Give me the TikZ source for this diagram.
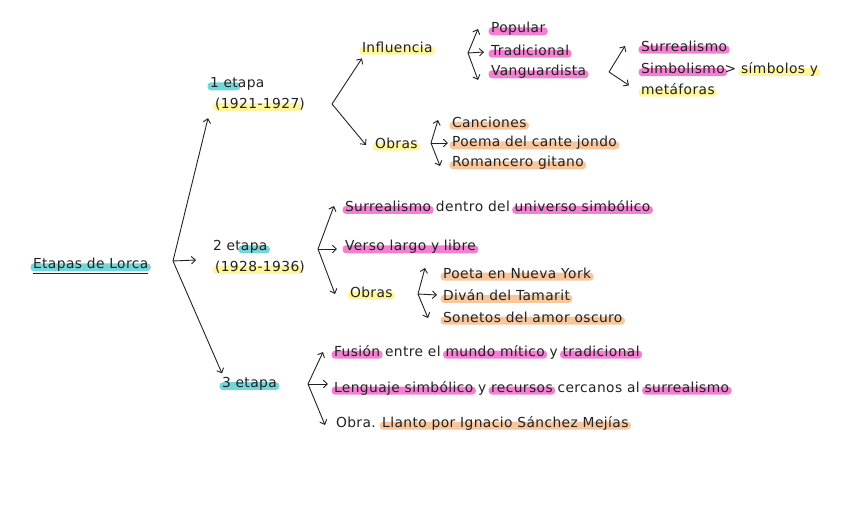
\documentclass[tikz,border=0pt]{standalone}
\usepackage{fontspec}
\setmainfont{DejaVu Sans}[LetterSpace=3]
\usetikzlibrary{arrows.meta,positioning}
\definecolor{lorca-cyan}{HTML}{74D6D8}
\definecolor{lorca-yellow}{HTML}{FFF59C}
\definecolor{lorca-pink}{HTML}{F47FD2}
\definecolor{lorca-orange}{HTML}{F8C69C}
\definecolor{lorca-ink}{HTML}{222222}
\newsavebox\resaltabox
\newlength\resaltaw
\newcommand\resalta[2]{%
  \sbox\resaltabox{#2}\setlength\resaltaw{\wd\resaltabox}%
  \tikz[baseline=0pt]{%
    \fill[overlay,#1,rounded corners=3.5pt] (-2.5pt,-2.5pt) rectangle ({\resaltaw+2.5pt},5.5pt);
    \node[inner sep=0pt,outer sep=0pt,anchor=base west] at (0pt,0pt) {\usebox\resaltabox};}}

\begin{document}
\begin{tikzpicture}[x=1pt,y=-1pt,
  every node/.style={font=\fontsize{13.8}{20.5}\selectfont},
  tema/.style={anchor=west,inner sep=0pt,outer sep=0pt,text=lorca-ink,align=left},
  flecha/.style={lorca-ink,line width=0.9pt,-{Straight Barb[length=4pt,width=7.5pt]}}]
  \useasboundingbox (0,0) rectangle (848,530);
  % root
  \node[tema] (lorca) at (33,265) {\resalta{lorca-cyan}{Etapas de Lorca}};
  \draw[lorca-ink,line width=1pt] ([yshift=-2pt]lorca.south west) -- ([yshift=-2pt]lorca.south east);
  % stages
  \node[tema] (e1) at (210,94) {\resalta{lorca-cyan}{1 et}apa\\\hspace*{5pt}\resalta{lorca-yellow}{(1921-1927})};
  \node[tema] (e2) at (213,257) {2 et\resalta{lorca-cyan}{apa}\\\hspace*{2pt}\resalta{lorca-yellow}{(1928-1936})};
  \node[tema] (e3) at (222,384) {\resalta{lorca-cyan}{3 etapa}};
  \coordinate (j0) at (173,261);
  \draw[flecha] (j0) -- ([shift={(-2pt,-8pt)}]e1.south west);
  \draw[flecha] (j0) -- ([shift={(-17pt,-3pt)}]e2.west);
  \draw[flecha] (j0) -- ([yshift=4pt]e3.north west);

  % 1 etapa
  \node[tema] (inf) at (362,47) {\resalta{lorca-yellow}{Influencia}};
  \node[tema] (ob1) at (375,143) {\resalta{lorca-yellow}{Obras}};
  \coordinate (j1) at (332,104);
  \draw[flecha] (j1) -- ([yshift=-6pt]inf.south west);
  \draw[flecha] (j1) -- ([shift={(-9pt,-2pt)}]ob1.west);

  \node[tema] (pop) at (491,29) {\resalta{lorca-pink}{Popular}};
  \node[tema] (trad) at (491,50) {\resalta{lorca-pink}{Tradicional}};
  \node[tema] (van) at (491,72) {\resalta{lorca-pink}{Vanguardista}};
  \coordinate (j2) at (468,53);
  \draw[flecha] (j2) -- ([xshift=-13pt]pop.west);
  \draw[flecha] (j2) -- ([shift={(-7pt,-2pt)}]trad.west);
  \draw[flecha] (j2) -- ([shift={(-13pt,-8pt)}]van.west);

  \node[tema] (sur) at (641,46) {\resalta{lorca-pink}{Surrealismo}};
  \node[tema] (simb) at (641,78.5) {\resalta{lorca-pink}{Simbolismo}> \resalta{lorca-yellow}{símbolos y}\\\resalta{lorca-yellow}{metáforas}};
  \coordinate (j3) at (609,72);
  \draw[flecha] (j3) -- ([xshift=-16pt]sur.west);
  \draw[flecha] (j3) -- ([shift={(-12pt,9pt)}]simb.south west);

  \node[tema] (canc) at (452,122) {\resalta{lorca-orange}{Canciones}};
  \node[tema] (poema) at (452,143) {\resalta{lorca-orange}{Poema del cante jondo}};
  \node[tema] (roman) at (452,163) {\resalta{lorca-orange}{Romancero gitano}};
  \coordinate (j4) at (431,143);
  \draw[flecha] (j4) -- ([shift={(-14pt,2pt)}]canc.west);
  \draw[flecha] (j4) -- ([xshift=-4pt]poema.west);
  \draw[flecha] (j4) -- ([shift={(-12pt,-3pt)}]roman.west);

  % 2 etapa
  \node[tema] (surd) at (345,206) {\resalta{lorca-pink}{Surrealismo} dentro del \resalta{lorca-pink}{universo simbólico}};
  \node[tema] (verso) at (345,247) {\resalta{lorca-pink}{Verso largo y libre}};
  \node[tema] (ob2) at (350,292) {\resalta{lorca-yellow}{Obras}};
  \coordinate (j5) at (318,249);
  \draw[flecha] (j5) -- ([xshift=-11pt]surd.west);
  \draw[flecha] (j5) -- ([shift={(-8pt,-2pt)}]verso.west);
  \draw[flecha] (j5) -- ([shift={(-15pt,-2pt)}]ob2.west);

  \node[tema] (poeta) at (443,273) {\resalta{lorca-orange}{Poeta en Nueva York}};
  \node[tema] (divan) at (443,295) {\resalta{lorca-orange}{Diván del Tamarit}};
  \node[tema] (sonetos) at (443,317) {\resalta{lorca-orange}{Sonetos del amor oscuro}};
  \coordinate (j6) at (418,294);
  \draw[flecha] (j6) -- ([shift={(-18pt,5pt)}]poeta.west);
  \draw[flecha] (j6) -- ([xshift=-6pt]divan.west);
  \draw[flecha] (j6) -- ([shift={(-15pt,-1pt)}]sonetos.west);

  % 3 etapa
  \node[tema] (fus) at (334,352) {\resalta{lorca-pink}{Fusión} entre el \resalta{lorca-pink}{mundo mítico} y \resalta{lorca-pink}{tradicional}};
  \node[tema] (leng) at (334,388) {\resalta{lorca-pink}{Lenguaje simbólico} y \resalta{lorca-pink}{recursos} cercanos al \resalta{lorca-pink}{surrealismo}};
  \node[tema] (obra) at (336,423) {Obra. \resalta{lorca-orange}{Llanto por Ignacio Sánchez Mejías}};
  \coordinate (j7) at (308,384);
  \draw[flecha] (j7) -- ([xshift=-11pt]fus.west);
  \draw[flecha] (j7) -- ([shift={(-6pt,4pt)}]leng.west);
  \draw[flecha] (j7) -- ([shift={(-11pt,-2pt)}]obra.west);
\end{tikzpicture}
\end{document}
